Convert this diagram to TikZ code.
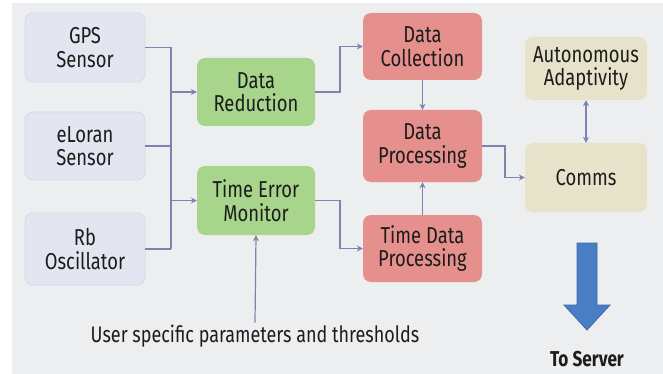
\documentclass[tikz,border=0pt]{standalone}
\usepackage{fontspec}
\setmainfont{Fira Sans}[FakeStretch=0.8]
\usetikzlibrary{arrows.meta,shadows}
\definecolor{bgc}{HTML}{EDEEF0}
\definecolor{sensc}{HTML}{E3E6F1}
\definecolor{sensd}{HTML}{D6DAE8}
\definecolor{greenc}{HTML}{A8D58C}
\definecolor{redc}{HTML}{E5908D}
\definecolor{beigec}{HTML}{E7E3CB}
\definecolor{linec}{HTML}{7E82AE}
\definecolor{bluec}{HTML}{4A7EC4}
\definecolor{blued}{HTML}{3A69A8}
\definecolor{txtc}{HTML}{1C1C1C}
\tikzset{
  box/.style={rounded corners=8pt, align=center, text=txtc, inner sep=0pt,
    font=\fontsize{23}{23.5}\selectfont},
  sensor/.style={box, fill=sensc, draw=sensd, line width=0.8pt},
  greenbox/.style={box, fill=greenc},
  redbox/.style={box, fill=redc},
  beigebox/.style={box, fill=beigec},
  conn/.style={draw=linec, line width=1.2pt},
  arr/.style={conn, -{Stealth[length=6pt,width=6pt]}},
  darr/.style={conn, {Stealth[length=6pt,width=6pt]}-{Stealth[length=6pt,width=6pt]}},
}
\begin{document}
\begin{tikzpicture}[x=1pt,y=-1pt]
\useasboundingbox (0,0) rectangle (663,374);
\fill[white] (0,0) rectangle (663,374);
\fill[bgc] (12,3) rectangle (663,374);

\node[sensor, minimum width=120pt, minimum height=69pt] (gps) at (85,47.5) {GPS\\Sensor};
\node[sensor, minimum width=120pt, minimum height=68pt] (elo) at (85,146) {eLoran\\Sensor};
\node[sensor, minimum width=120pt, minimum height=72pt] (rb) at (85,249) {Rb\\Oscillator};

\node[greenbox, minimum width=118pt, minimum height=68pt] (dr) at (256,92) {Data\\Reduction};
\node[greenbox, minimum width=118pt, minimum height=69pt] (tem) at (256,200.5) {Time Error\\Monitor};

\node[redbox, minimum width=119pt, minimum height=67pt] (dc) at (422.5,46.5) {Data\\Collection};
\node[redbox, minimum width=119pt, minimum height=72pt] (dp) at (422.5,146) {Data\\Processing};
\node[redbox, minimum width=119pt, minimum height=67pt] (tdp) at (422.5,248.5) {Time Data\\Processing};

\node[beigebox, minimum width=122pt, minimum height=63pt] (aa) at (586,68.5) {Autonomous\\Adaptivity};
\node[beigebox, minimum width=122pt, minimum height=69pt] (comms) at (586,177.5) {Comms};

\node[text=txtc, font=\fontsize{22.5}{24}\selectfont, inner sep=2pt] (user) at (255,336) {User specific parameters and thresholds};
\node[text=txtc, font=\bfseries\fontsize{21.5}{23}\selectfont, inner sep=0pt] (srv) at (587,359) {To Server};

\coordinate (bt) at (171,47);
\coordinate (bb) at (171,248);
\coordinate (j1) at (340,0);
\coordinate (j2) at (505,0);

\draw[conn] (gps.east) -- (gps.east -| bt);
\draw[conn] (elo.east) -- (elo.east -| bt);
\draw[conn] (rb.east) -- (rb.east -| bt);
\draw[conn] (bt |- gps.east) -- (bt |- rb.east);
\draw[arr] (dr.west -| bt) -- (dr.west);
\draw[arr] (tem.west -| bt) -- (tem.west);

\draw[arr] (dr.east) -- (dr.east -| j1) |- (dc.west);
\draw[arr] (tem.east) -- (tem.east -| j1) |- (tdp.west);
\draw[arr] (dc.south) -- (dp.north);
\draw[arr] (tdp.north) -- (dp.south);
\draw[arr] (dp.east) -- (dp.east -| j2) |- (comms.west);
\draw[darr] (aa.south) -- (comms.north);
\draw[arr] (user.north) -- (tem.south);

\filldraw[fill=bluec, draw=blued, line width=0.8pt, line join=miter]
  (577,243) -- (597,243) -- (597,305) -- (610,305) -- (587,330) -- (564,305) -- (577,305) -- cycle;
\end{tikzpicture}
\end{document}
